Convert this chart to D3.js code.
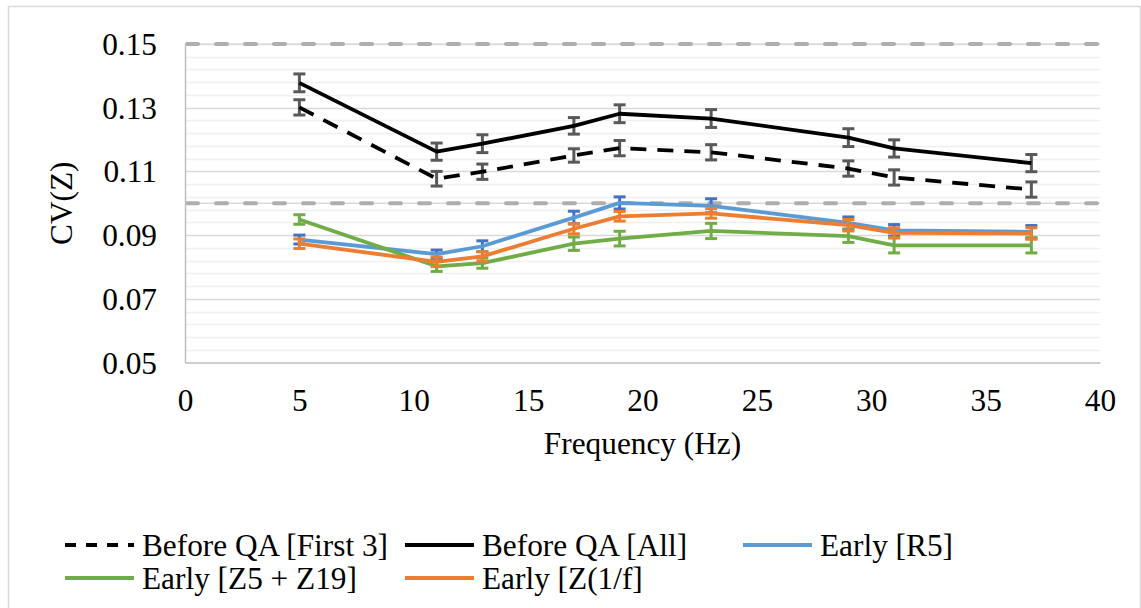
<!DOCTYPE html>
<html>
<head>
<meta charset="utf-8">
<script src="https://cdn.jsdelivr.net/npm/d3@7"></script>
<style>
  html, body { margin: 0; padding: 0; background: #ffffff; }
  svg { display: block; }
</style>
</head>
<body>
<svg id="chart" width="1141" height="608"></svg>
<script>
// Frequencies (Hz) at which CV(Z) was measured
const freq = [5, 11, 13, 17, 19, 23, 29, 31, 37];

// CV(Z) per series and the half-width of each error bar
const beforeFirst3    = [0.1301, 0.1077, 0.1099, 0.1150, 0.1173, 0.1160, 0.1109, 0.1081, 0.1043];
const beforeFirst3Err = [0.0024, 0.0023, 0.0024, 0.0021, 0.0024, 0.0024, 0.0024, 0.0024, 0.0024];
const beforeAll       = [0.1378, 0.1162, 0.1187, 0.1243, 0.1281, 0.1266, 0.1206, 0.1172, 0.1126];
const beforeAllErr    = [0.0028, 0.0027, 0.0028, 0.0026, 0.0028, 0.0028, 0.0028, 0.0027, 0.0027];
const earlyR5         = [0.0886, 0.0840, 0.0865, 0.0955, 0.1001, 0.0992, 0.0938, 0.0915, 0.0910];
const earlyR5Err      = [0.0014, 0.0013, 0.0017, 0.0020, 0.0019, 0.0022, 0.0019, 0.0018, 0.0020];
const earlyZ5Z19      = [0.0949, 0.0802, 0.0812, 0.0873, 0.0889, 0.0913, 0.0897, 0.0868, 0.0868];
const earlyZ5Z19Err   = [0.0015, 0.0016, 0.0016, 0.0021, 0.0023, 0.0024, 0.0020, 0.0024, 0.0024];
const earlyZ1f        = [0.0873, 0.0816, 0.0833, 0.0920, 0.0959, 0.0968, 0.0931, 0.0907, 0.0905];
const earlyZ1fErr     = [0.0015, 0.0015, 0.0015, 0.0016, 0.0015, 0.0015, 0.0018, 0.0016, 0.0018];

// Axis ticks and reference levels
const xTicks = [0, 5, 10, 15, 20, 25, 30, 35, 40];
const yTicks = [0.05, 0.07, 0.09, 0.11, 0.13, 0.15];
const referenceLevels = [0.15, 0.10];

const seriesNames = ["Before QA [First 3]", "Before QA [All]", "Early [R5]", "Early [Z5 + Z19]", "Early [Z(1/f]"];

const series = [
  { name: seriesNames[0], values: beforeFirst3, err: beforeFirst3Err, color: "#000000", barColor: "#595959", dash: "16,11" },
  { name: seriesNames[1], values: beforeAll,    err: beforeAllErr,    color: "#000000", barColor: "#595959", dash: null },
  { name: seriesNames[2], values: earlyR5,      err: earlyR5Err,      color: "#5B9BD5", barColor: "#4472C4", dash: null },
  { name: seriesNames[3], values: earlyZ5Z19,   err: earlyZ5Z19Err,   color: "#70AD47", barColor: "#70AD47", dash: null },
  { name: seriesNames[4], values: earlyZ1f,     err: earlyZ1fErr,     color: "#ED7D31", barColor: "#ED7D31", dash: null }
];

const FONT = '"Liberation Serif"';
const FS = 31.3;

const svg = d3.select("#chart");
const W = 1141, H = 608;
const plot = { left: 185, right: 1100, top: 44, bottom: 362.5 };

const x = d3.scaleLinear().domain([0, 40]).range([plot.left, plot.right]);
const y = d3.scaleLinear().domain([0.05, 0.15]).range([plot.bottom, plot.top]);

// outer chart frame
svg.append("rect")
  .attr("x", 8.5).attr("y", 6.5)
  .attr("width", W - 9).attr("height", H + 10)
  .attr("fill", "#fff").attr("stroke", "#D9D9D9").attr("stroke-width", 1.5);

// minor gridlines every 0.004, major every 0.02
const minor = d3.range(0, 26).map(i => 0.05 + i * 0.004).filter(v => v < 0.1501);
const g = svg.append("g");
g.selectAll("line.minor")
  .data(minor.filter(v => !yTicks.some(t => Math.abs(t - v) < 1e-6)))
  .join("line")
  .attr("x1", plot.left).attr("x2", plot.right)
  .attr("y1", d => Math.round(y(d)) + 0.5).attr("y2", d => Math.round(y(d)) + 0.5)
  .attr("stroke", "#F0F0F0").attr("stroke-width", 1.3);

g.selectAll("line.major")
  .data(yTicks.filter(v => v > 0.051))
  .join("line")
  .attr("x1", plot.left).attr("x2", plot.right)
  .attr("y1", d => Math.round(y(d)) + 0.5).attr("y2", d => Math.round(y(d)) + 0.5)
  .attr("stroke", "#D9D9D9").attr("stroke-width", 1.3);

// dashed reference levels
referenceLevels.forEach(v => {
  g.append("line")
    .attr("x1", plot.left).attr("x2", plot.right)
    .attr("y1", y(v)).attr("y2", y(v))
    .attr("stroke", "#DCDCDC").attr("stroke-width", 1.3);
  g.append("line")
    .attr("x1", plot.left + 2).attr("x2", plot.right)
    .attr("y1", y(v)).attr("y2", y(v))
    .attr("stroke", "#AEAEAE").attr("stroke-width", 4)
    .attr("stroke-linecap", "round")
    .attr("stroke-dasharray", "11,18");
});

// axes
const xAxis = d3.axisBottom(x).tickValues(xTicks).tickSize(0).tickPadding(0).tickFormat(d3.format("d"));
const yAxis = d3.axisLeft(y).tickValues(yTicks).tickSize(0).tickPadding(0).tickFormat(d3.format(".2f"));

const gx = svg.append("g").attr("transform", `translate(0,${plot.bottom})`).call(xAxis);
gx.select(".domain").attr("stroke", "#BFBFBF").attr("stroke-width", 1.5);
gx.selectAll(".tick text")
  .style("font-family", FONT).style("font-size", FS + "px")
  .attr("dy", 0).attr("y", 48).attr("fill", "#000");

const gy = svg.append("g").attr("transform", `translate(${plot.left},0)`).call(yAxis);
gy.select(".domain").attr("stroke", "#BFBFBF").attr("stroke-width", 1.5);
gy.selectAll(".tick text")
  .style("font-family", FONT).style("font-size", FS + "px")
  .attr("dy", 10.5).attr("x", -28).attr("fill", "#000");

// axis titles
svg.append("text")
  .attr("x", (plot.left + plot.right) / 2).attr("y", 454)
  .attr("text-anchor", "middle")
  .style("font-family", FONT).style("font-size", FS + "px")
  .text("Frequency (Hz)");

svg.append("text")
  .attr("transform", `translate(72,${(plot.top + plot.bottom) / 2}) rotate(-90)`)
  .attr("text-anchor", "middle")
  .style("font-family", FONT).style("font-size", FS + "px")
  .text("CV(Z)");

// series: error bars then the connecting line
const line = d3.line().x(d => x(d.f)).y(d => y(d.v));
const capW = 12;

series.forEach(s => {
  const pts = freq.map((f, i) => ({ f, v: s.values[i], e: s.err[i] }));
  const sg = svg.append("g");

  const bars = sg.selectAll("g.bar").data(pts).join("g");
  bars.append("line")
    .attr("x1", d => x(d.f)).attr("x2", d => x(d.f))
    .attr("y1", d => y(d.v + d.e)).attr("y2", d => y(d.v - d.e))
    .attr("stroke", s.barColor).attr("stroke-width", 3);
  bars.append("line")
    .attr("x1", d => x(d.f) - capW / 2).attr("x2", d => x(d.f) + capW / 2)
    .attr("y1", d => y(d.v + d.e)).attr("y2", d => y(d.v + d.e))
    .attr("stroke", s.barColor).attr("stroke-width", 3);
  bars.append("line")
    .attr("x1", d => x(d.f) - capW / 2).attr("x2", d => x(d.f) + capW / 2)
    .attr("y1", d => y(d.v - d.e)).attr("y2", d => y(d.v - d.e))
    .attr("stroke", s.barColor).attr("stroke-width", 3);

  sg.append("path")
    .datum(pts)
    .attr("d", line)
    .attr("fill", "none")
    .attr("stroke", s.color)
    .attr("stroke-width", 3.8)
    .attr("stroke-linejoin", "round")
    .attr("stroke-dasharray", s.dash);
});

// legend, two rows
const legendPos = [
  { x: 65,  y: 545 }, { x: 405, y: 545 }, { x: 743, y: 545 },
  { x: 65,  y: 578 }, { x: 405, y: 578 }
];
const lg = svg.append("g");
series.forEach((s, i) => {
  const p = legendPos[i];
  lg.append("line")
    .attr("x1", p.x).attr("x2", p.x + 69)
    .attr("y1", p.y).attr("y2", p.y)
    .attr("stroke", s.color).attr("stroke-width", 4)
    .attr("stroke-dasharray", s.dash ? "11,10" : null);
  lg.append("text")
    .attr("x", p.x + 77).attr("y", p.y + 11)
    .style("font-family", FONT).style("font-size", FS + "px")
    .text(s.name);
});
</script>
</body>
</html>
